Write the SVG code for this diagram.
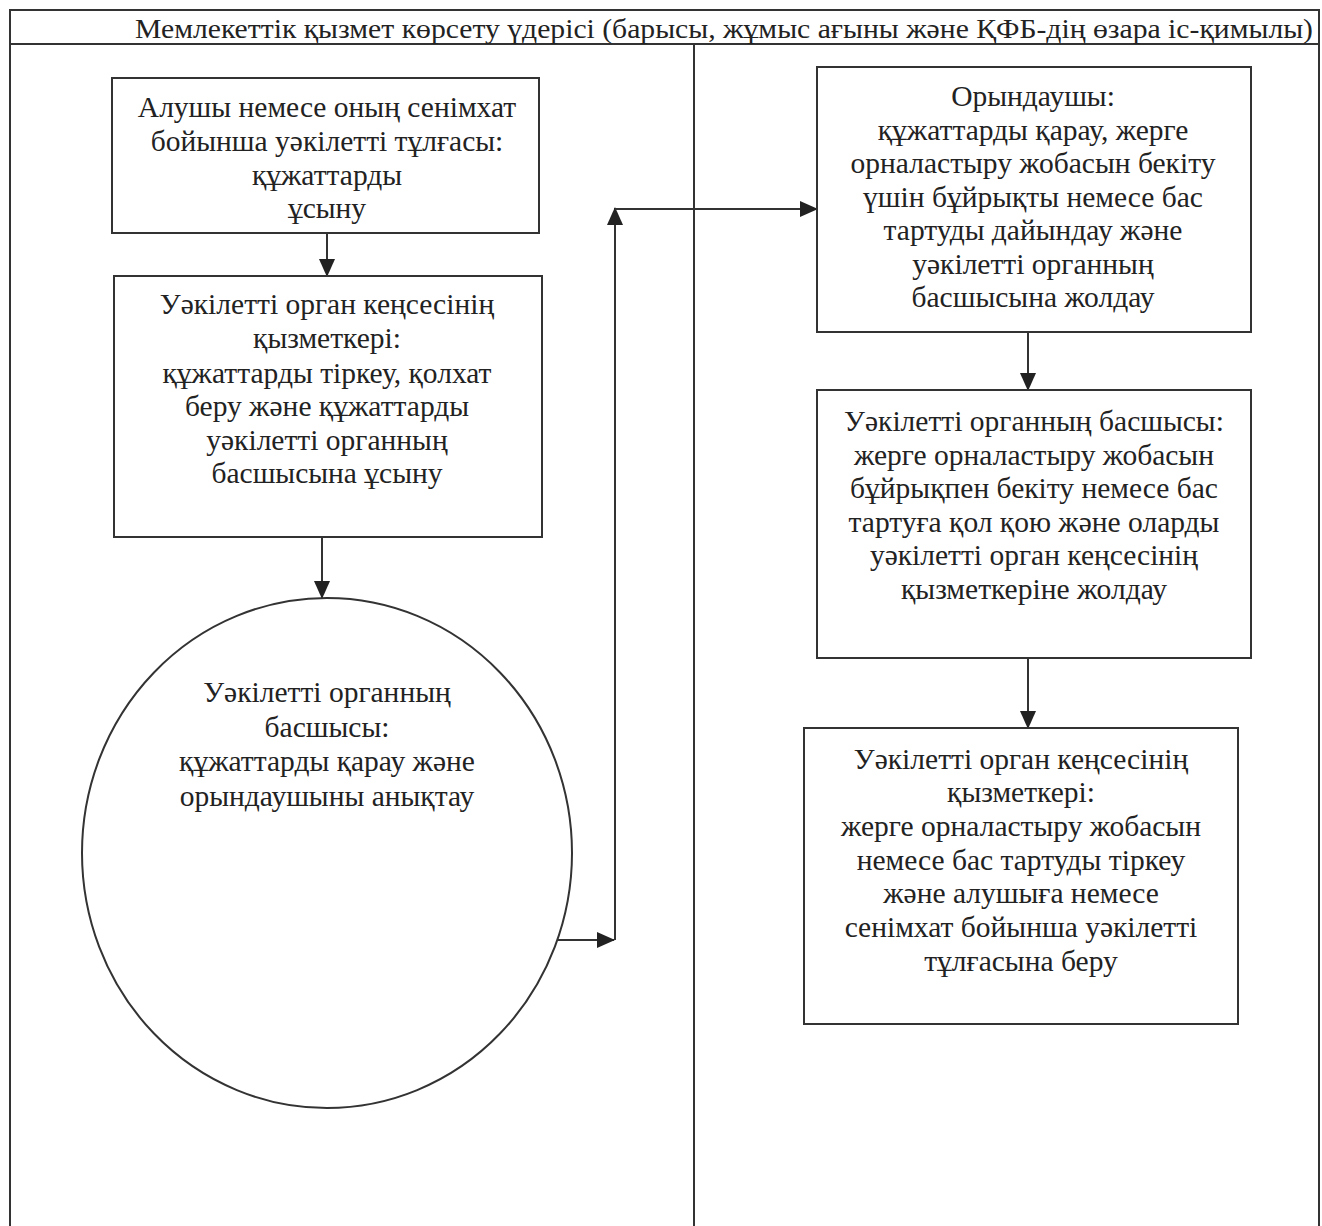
<svg xmlns="http://www.w3.org/2000/svg" width="1322" height="1226" viewBox="0 0 1322 1226">
<style>
.frame{fill:none;stroke:#333;stroke-width:2}
.node{fill:#fff;stroke:#333;stroke-width:2}
.t{font-family:"Liberation Serif","Times New Roman",serif;font-size:29.5px;fill:#222;text-anchor:middle}
.hdr{font-family:"Liberation Serif","Times New Roman",serif;font-size:28px;fill:#222}
.con{fill:none;stroke:#333;stroke-width:2}
</style>
<defs>
<marker id="ah" markerUnits="userSpaceOnUse" markerWidth="18" markerHeight="16" refX="17" refY="8" orient="auto">
<path d="M0,0 L18,8 L0,16 Z" fill="#222"/>
</marker>
</defs>
<rect width="1322" height="1226" fill="#fff"/>
<g id="frame">
<path class="frame" d="M10,1226 V10 H1319 V1226"/>
<line class="frame" x1="10" y1="44" x2="1319" y2="44"/>
<line class="frame" x1="694" y1="44" x2="694" y2="1226"/>
<text class="hdr" x="135" y="37.5" textLength="1178" lengthAdjust="spacingAndGlyphs">Мемлекеттік қызмет көрсету үдерісі (барысы, жұмыс ағыны және ҚФБ-дің өзара іс-қимылы)</text>
</g>
<g id="connectors">
<line class="con" x1="327" y1="233" x2="327" y2="276" marker-end="url(#ah)"/>
<line class="con" x1="322" y1="537" x2="322" y2="598" marker-end="url(#ah)"/>
<line class="con" x1="548" y1="940" x2="614" y2="940" marker-end="url(#ah)"/>
<line class="con" x1="615" y1="940" x2="615" y2="208" marker-end="url(#ah)"/>
<line class="con" x1="615" y1="209" x2="817" y2="209" marker-end="url(#ah)"/>
<line class="con" x1="1028" y1="332" x2="1028" y2="390" marker-end="url(#ah)"/>
<line class="con" x1="1028" y1="658" x2="1028" y2="728" marker-end="url(#ah)"/>
</g>
<g id="n1">
<rect class="node" x="112" y="78" width="427" height="155"/>
<text class="t" x="327" y="117">Алушы немесе оның сенімхат</text>
<text class="t" x="327" y="151">бойынша уәкілетті тұлғасы:</text>
<text class="t" x="327" y="185">құжаттарды</text>
<text class="t" x="327" y="218">ұсыну</text>
</g>
<g id="n2">
<rect class="node" x="114" y="276" width="428" height="261"/>
<text class="t" x="327" y="314">Уәкілетті орган кеңсесінің</text>
<text class="t" x="327" y="348">қызметкері:</text>
<text class="t" x="327" y="383">құжаттарды тіркеу, қолхат</text>
<text class="t" x="327" y="416">беру және құжаттарды</text>
<text class="t" x="327" y="450">уәкілетті органның</text>
<text class="t" x="327" y="483">басшысына ұсыну</text>
</g>
<g id="n3">
<ellipse class="node" cx="327" cy="853" rx="245" ry="255"/>
<text class="t" x="327" y="702">Уәкілетті органның</text>
<text class="t" x="327" y="737">басшысы:</text>
<text class="t" x="327" y="771">құжаттарды қарау және</text>
<text class="t" x="327" y="806">орындаушыны анықтау</text>
</g>
<g id="n4">
<rect class="node" x="817" y="67" width="434" height="265"/>
<text class="t" x="1033" y="106">Орындаушы:</text>
<text class="t" x="1033" y="140">құжаттарды қарау, жерге</text>
<text class="t" x="1033" y="173">орналастыру жобасын бекіту</text>
<text class="t" x="1033" y="207">үшін бұйрықты немесе бас</text>
<text class="t" x="1033" y="240">тартуды дайындау және</text>
<text class="t" x="1033" y="274">уәкілетті органның</text>
<text class="t" x="1033" y="307">басшысына жолдау</text>
</g>
<g id="n5">
<rect class="node" x="817" y="390" width="434" height="268"/>
<text class="t" x="1034" y="431">Уәкілетті органның басшысы:</text>
<text class="t" x="1034" y="465">жерге орналастыру жобасын</text>
<text class="t" x="1034" y="498">бұйрықпен бекіту немесе бас</text>
<text class="t" x="1034" y="532">тартуға қол қою және оларды</text>
<text class="t" x="1034" y="565">уәкілетті орган кеңсесінің</text>
<text class="t" x="1034" y="599">қызметкеріне жолдау</text>
</g>
<g id="n6">
<rect class="node" x="804" y="728" width="434" height="296"/>
<text class="t" x="1021" y="769">Уәкілетті орган кеңсесінің</text>
<text class="t" x="1021" y="802">қызметкері:</text>
<text class="t" x="1021" y="836">жерге орналастыру жобасын</text>
<text class="t" x="1021" y="870">немесе бас тартуды тіркеу</text>
<text class="t" x="1021" y="903">және алушыға немесе</text>
<text class="t" x="1021" y="937">сенімхат бойынша уәкілетті</text>
<text class="t" x="1021" y="971">тұлғасына беру</text>
</g>
</svg>
